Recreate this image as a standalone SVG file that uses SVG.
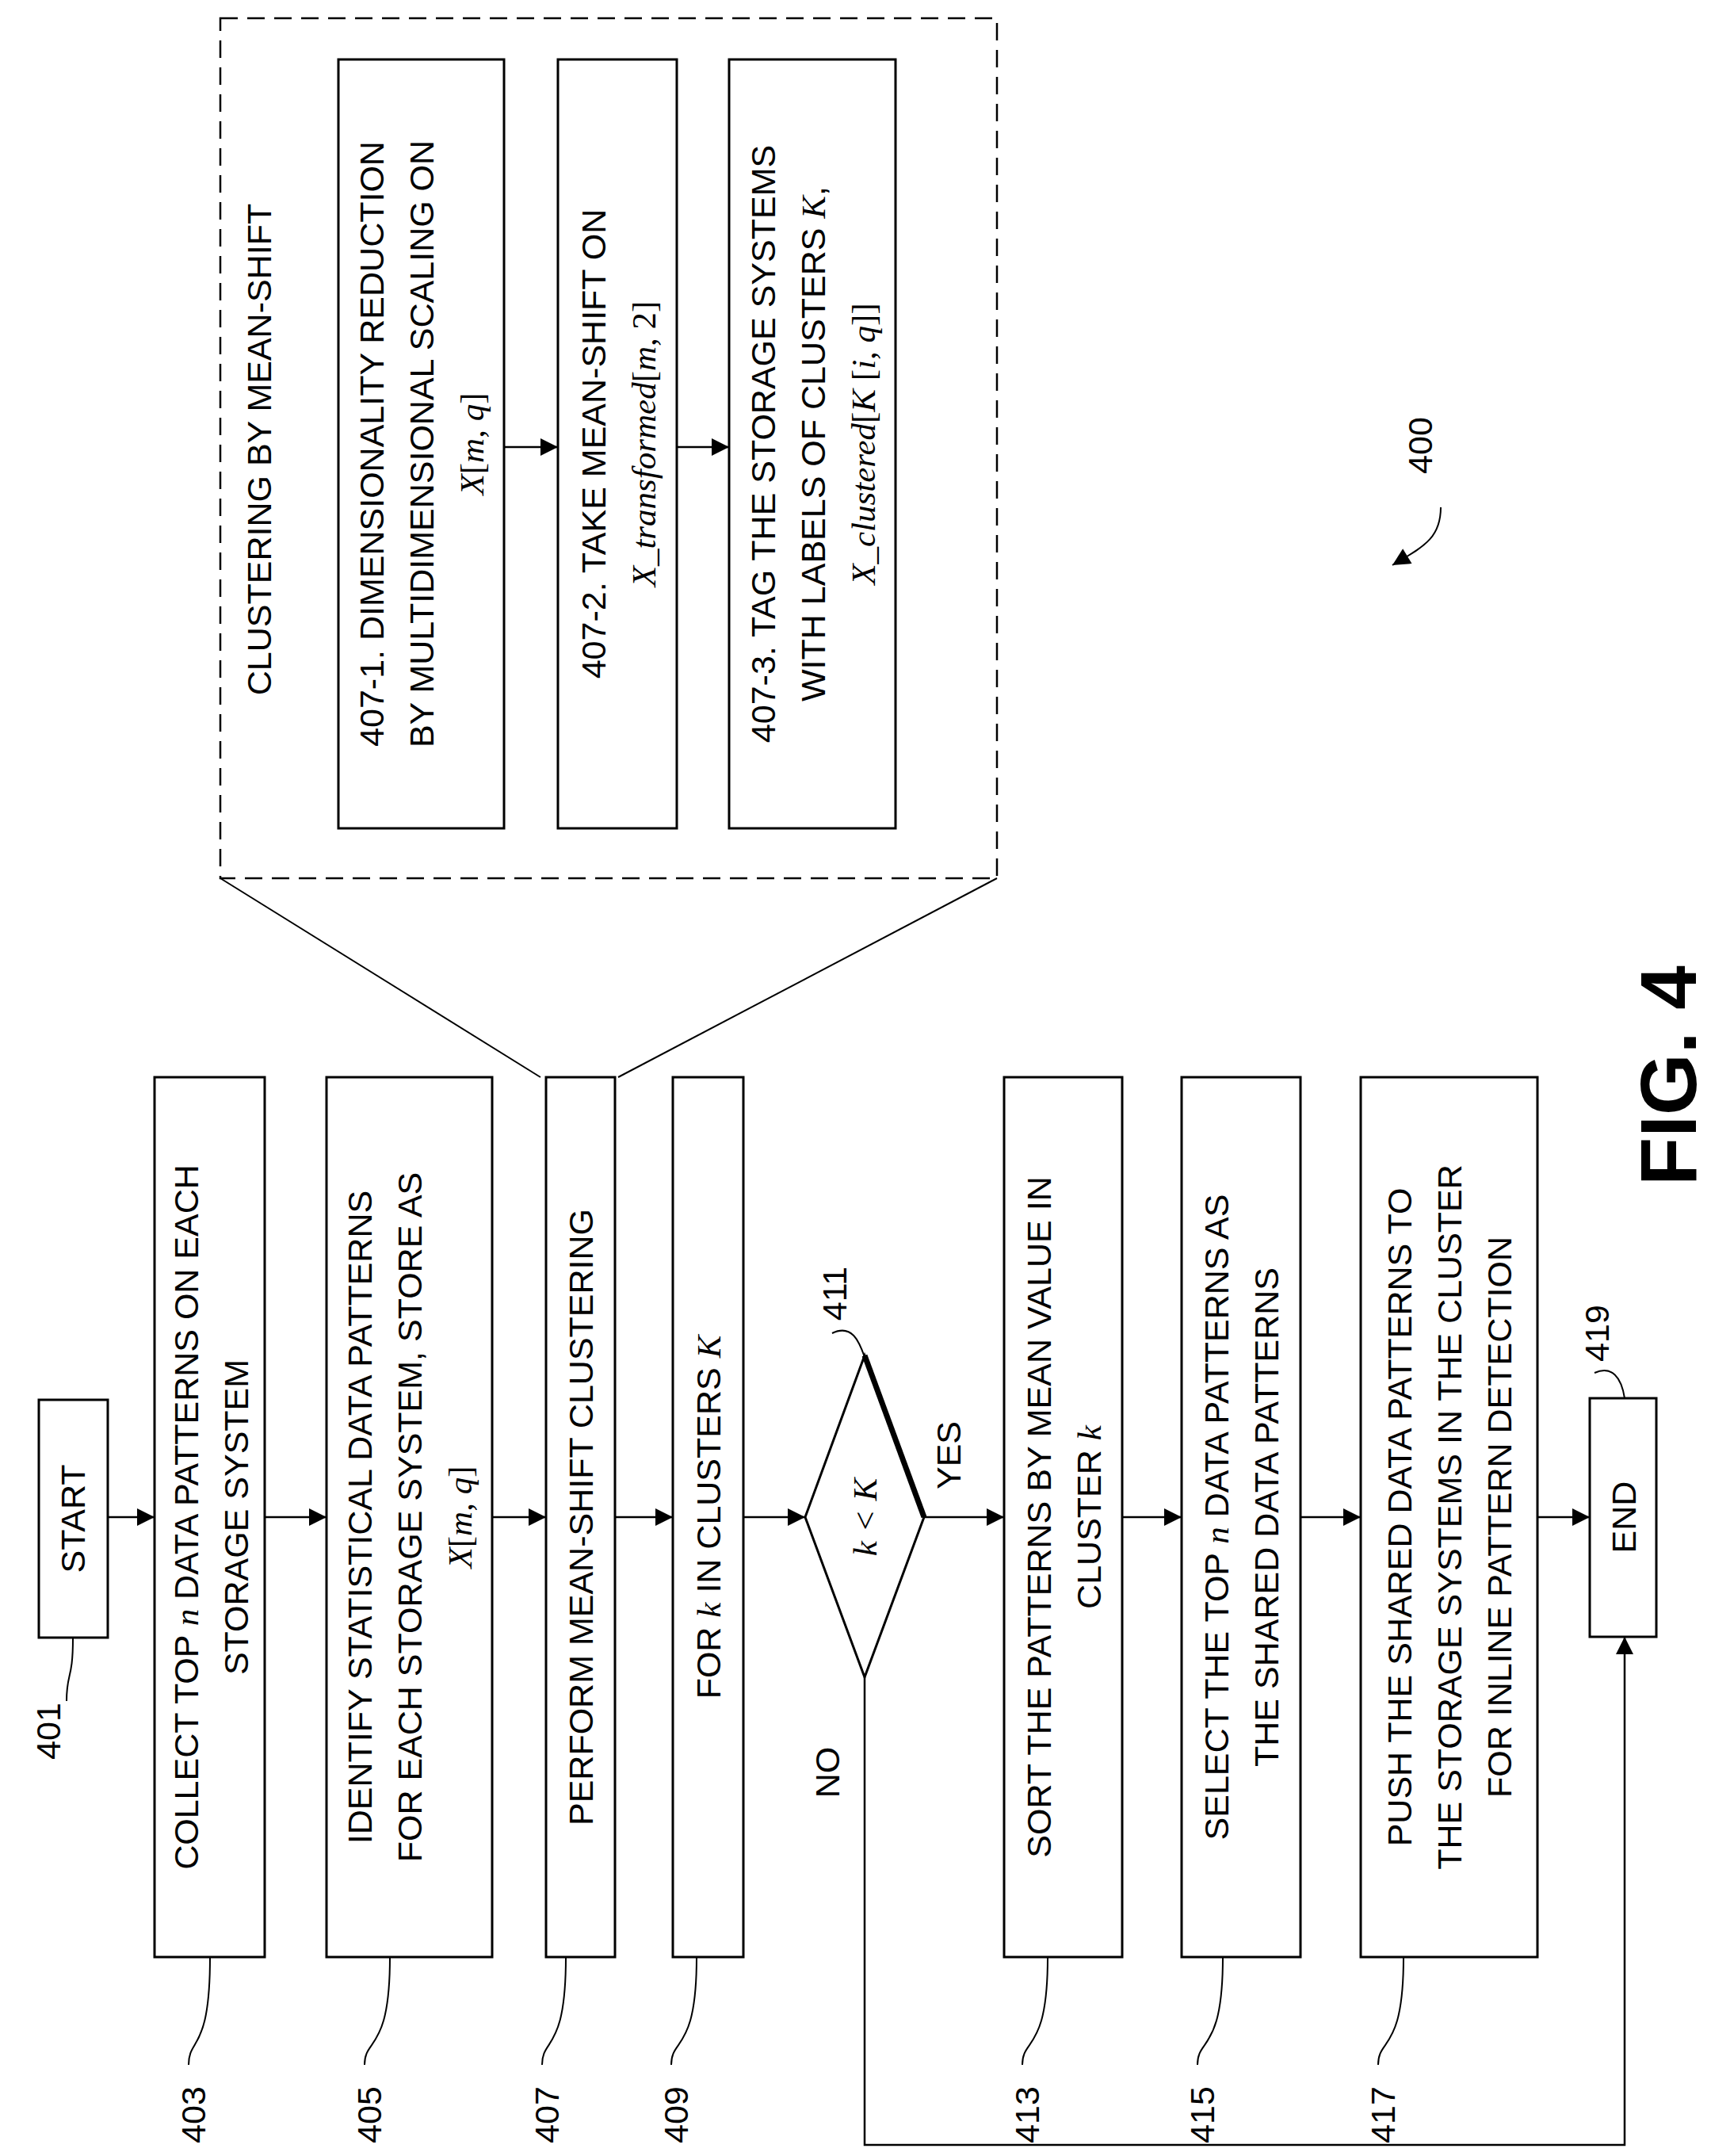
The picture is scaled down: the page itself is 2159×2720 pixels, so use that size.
<svg xmlns="http://www.w3.org/2000/svg" width="2159" height="2720" viewBox="0 0 2159 2720">
<style>
.b{fill:#fff;stroke:#000;stroke-width:3}
.t{font-family:"Liberation Sans",Arial,sans-serif;font-size:43px;fill:#000;text-anchor:middle}
.m{font-family:"Liberation Serif","Times New Roman",serif;font-style:italic}
.r{font-family:"Liberation Serif","Times New Roman",serif;font-style:normal}
.c{fill:none;stroke:#000;stroke-width:2.5}
.l{fill:none;stroke:#000;stroke-width:2}
</style>
<defs>
<marker id="A" viewBox="0 0 10 10" refX="10" refY="5" markerWidth="26" markerHeight="22" markerUnits="userSpaceOnUse" orient="auto"><path d="M0,0L10,5L0,10z"/></marker>
</defs>
<g id="cluster">
<rect x="278" y="23" width="980" height="1085" fill="none" stroke="#000" stroke-width="2.5" stroke-dasharray="22,12"/>
<text class="t" transform="translate(342,567) rotate(-90)">CLUSTERING BY MEAN-SHIFT</text>
</g>
<g id="n407-1"><rect class="b" x="427" y="75" width="209" height="970"/>
<text class="t" transform="translate(484,560) rotate(-90)"><tspan x="0">407-1. DIMENSIONALITY REDUCTION</tspan><tspan x="0" dy="63">BY MULTIDIMENSIONAL SCALING ON</tspan><tspan x="0" dy="63" class="m">X<tspan class="r">[</tspan>m<tspan class="r">,</tspan> q<tspan class="r">]</tspan></tspan></text></g>
<g id="n407-2"><rect class="b" x="704" y="75" width="150" height="970"/>
<text class="t" transform="translate(764,560) rotate(-90)"><tspan x="0">407-2. TAKE MEAN-SHIFT ON</tspan><tspan x="0" dy="63" class="m">X_transformed<tspan class="r">[</tspan>m<tspan class="r">, 2]</tspan></tspan></text></g>
<g id="n407-3"><rect class="b" x="920" y="75" width="210" height="970"/>
<text class="t" transform="translate(978,560) rotate(-90)"><tspan x="0">407-3. TAG THE STORAGE SYSTEMS</tspan><tspan x="0" dy="63">WITH LABELS OF CLUSTERS <tspan class="m">K</tspan>,</tspan><tspan x="0" dy="63" class="m">X_clustered<tspan class="r">[</tspan>K <tspan class="r">[</tspan>i<tspan class="r">,</tspan> q<tspan class="r">]]</tspan></tspan></text></g>
<g id="n401"><rect class="b" x="49" y="1766" width="87" height="300"/>
<text class="t" transform="translate(107,1916) rotate(-90)">START</text></g>
<g id="n403"><rect class="b" x="195" y="1359" width="139" height="1110"/>
<text class="t" transform="translate(250,1914) rotate(-90)"><tspan x="0">COLLECT TOP <tspan class="m">n</tspan> DATA PATTERNS ON EACH</tspan><tspan x="0" dy="63">STORAGE SYSTEM</tspan></text></g>
<g id="n405"><rect class="b" x="412" y="1359" width="209" height="1110"/>
<text class="t" transform="translate(469,1914) rotate(-90)"><tspan x="0">IDENTIFY STATISTICAL DATA PATTERNS</tspan><tspan x="0" dy="63">FOR EACH STORAGE SYSTEM, STORE AS</tspan><tspan x="0" dy="63" class="m">X<tspan class="r">[</tspan>m<tspan class="r">,</tspan> q<tspan class="r">]</tspan></tspan></text></g>
<g id="n407"><rect class="b" x="689" y="1359" width="87" height="1110"/>
<text class="t" transform="translate(748,1914) rotate(-90)">PERFORM MEAN-SHIFT CLUSTERING</text></g>
<g id="n409"><rect class="b" x="849" y="1359" width="89" height="1110"/>
<text class="t" transform="translate(909,1914) rotate(-90)">FOR <tspan class="m">k</tspan> IN CLUSTERS <tspan class="m">K</tspan></text></g>
<g id="n411"><polygon class="b" points="1016,1914 1091,1710 1166,1914 1091,2116"/>
<line x1="1091" y1="1710" x2="1166" y2="1914" stroke="#000" stroke-width="7"/>
<text class="t m" transform="translate(1106,1914) rotate(-90)">k &lt; K</text></g>
<g id="n413"><rect class="b" x="1267" y="1359" width="149" height="1110"/>
<text class="t" transform="translate(1326,1914) rotate(-90)"><tspan x="0">SORT THE PATTERNS BY MEAN VALUE IN</tspan><tspan x="0" dy="63">CLUSTER <tspan class="m">k</tspan></tspan></text></g>
<g id="n415"><rect class="b" x="1491" y="1359" width="150" height="1110"/>
<text class="t" transform="translate(1550,1914) rotate(-90)"><tspan x="0">SELECT THE TOP <tspan class="m">n</tspan> DATA PATTERNS AS</tspan><tspan x="0" dy="63">THE SHARED DATA PATTERNS</tspan></text></g>
<g id="n417"><rect class="b" x="1717" y="1359" width="223" height="1110"/>
<text class="t" transform="translate(1781,1914) rotate(-90)"><tspan x="0">PUSH THE SHARED DATA PATTERNS TO</tspan><tspan x="0" dy="63">THE STORAGE SYSTEMS IN THE CLUSTER</tspan><tspan x="0" dy="63">FOR INLINE PATTERN DETECTION</tspan></text></g>
<g id="n419"><rect class="b" x="2006" y="1764" width="84" height="301"/>
<text class="t" transform="translate(2064,1914) rotate(-90)">END</text></g>
<g id="labels">
<text class="t" transform="translate(76,2184) rotate(-90)">401</text>
<text class="t" transform="translate(259,2668) rotate(-90)">403</text>
<text class="t" transform="translate(481,2668) rotate(-90)">405</text>
<text class="t" transform="translate(705,2668) rotate(-90)">407</text>
<text class="t" transform="translate(868,2668) rotate(-90)">409</text>
<text class="t" transform="translate(1311,2668) rotate(-90)">413</text>
<text class="t" transform="translate(1532,2668) rotate(-90)">415</text>
<text class="t" transform="translate(1760,2668) rotate(-90)">417</text>
<text class="t" transform="translate(1068,1632) rotate(-90)">411</text>
<text class="t" transform="translate(2030,1682) rotate(-90)">419</text>
<text class="t" transform="translate(1807,562) rotate(-90)">400</text>
<text class="t" transform="translate(1212,1836) rotate(-90)">YES</text>
<text class="t" transform="translate(1059,2236) rotate(-90)">NO</text>
<text class="t" transform="translate(2140,1357) rotate(-90)" style="font-size:100px;font-weight:bold">FIG. 4</text>
</g>
<g id="connectors">
<line class="l" x1="278" y1="1108" x2="682" y2="1359"/>
<line class="l" x1="1258" y1="1108" x2="780" y2="1359"/>
<path class="c" marker-end="url(#A)" d="M136,1914H195"/>
<path class="c" marker-end="url(#A)" d="M334,1914H412"/>
<path class="c" marker-end="url(#A)" d="M621,1914H689"/>
<path class="c" marker-end="url(#A)" d="M776,1914H849"/>
<path class="c" marker-end="url(#A)" d="M938,1914H1016"/>
<path class="c" marker-end="url(#A)" d="M1166,1914H1267"/>
<path class="c" marker-end="url(#A)" d="M1416,1914H1491"/>
<path class="c" marker-end="url(#A)" d="M1641,1914H1717"/>
<path class="c" marker-end="url(#A)" d="M1940,1914H2006"/>
<path class="c" marker-end="url(#A)" d="M636,564H704"/>
<path class="c" marker-end="url(#A)" d="M854,564H920"/>
<path class="c" marker-end="url(#A)" d="M1091,2116V2706H2050V2065"/>
<path class="l" d="M84,2146C84,2110 92,2120 92,2067"/>
<path class="l" d="M238,2605C238,2570 265,2590 265,2469"/>
<path class="l" d="M460,2605C460,2570 492,2590 492,2469"/>
<path class="l" d="M684,2605C684,2570 714,2590 714,2469"/>
<path class="l" d="M847,2605C847,2570 879,2590 879,2469"/>
<path class="l" d="M1290,2605C1290,2570 1322,2590 1322,2469"/>
<path class="l" d="M1511,2605C1511,2570 1543,2590 1543,2469"/>
<path class="l" d="M1739,2605C1739,2570 1771,2590 1771,2469"/>
<path class="l" d="M1050,1682C1075,1670 1084,1692 1091,1712"/>
<path class="l" d="M2012,1732C2034,1722 2046,1738 2050,1764"/>
<path class="l" marker-end="url(#A)" d="M1818,640C1818,680 1795,690 1757,713"/>
</g>
</svg>
